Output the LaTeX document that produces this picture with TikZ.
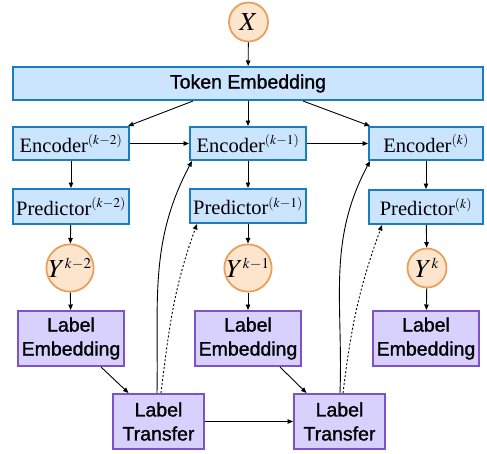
\documentclass[tikz,border=0pt]{standalone}
\usepackage{mathptmx}
\usepackage{fontspec}
\setmainfont{Liberation Serif}
\setsansfont{Liberation Sans}
\newfontfamily\labfont{Liberation Sans}[FakeBold=1.2]
\DeclareMathSizes{20.5}{20.5}{13.5}{10}
\DeclareMathSizes{26}{26}{15}{10}
\usetikzlibrary{arrows.meta}
\definecolor{bluefill}{HTML}{CCE5FF}
\definecolor{bluebd}{HTML}{1B7DC1}
\definecolor{orfill}{HTML}{FDE5CD}
\definecolor{orbd}{HTML}{E8A05A}
\definecolor{pufill}{HTML}{D8D0FD}
\definecolor{pubd}{HTML}{7E52C8}
\tikzset{
  bluebox/.style={draw=bluebd, fill=bluefill, line width=2pt, inner sep=0pt, minimum height=33pt,
    font=\fontsize{20.5}{24}\selectfont},
  tokbox/.style={bluebox, font=\labfont\fontsize{19.5}{24}\selectfont},
  circ/.style={circle, draw=orbd, fill=orfill, line width=1.8pt, inner sep=0pt, minimum size=39pt,
    font=\fontsize{26}{28}\selectfont},
  purbox/.style={draw=pubd, fill=pufill, line width=2pt, inner sep=0pt, minimum height=55pt,
    align=center, font=\labfont\fontsize{19.5}{24}\selectfont},
  arr/.style={-{Triangle[length=5.5pt,width=4.5pt]}, line width=0.9pt, black},
  dotarr/.style={arr, dash pattern=on 2pt off 2pt}
}
\begin{document}
\begin{tikzpicture}[x=1pt, y=-1pt]
\useasboundingbox (0,0) rectangle (487,453);
\node[circ] (X) at (248.5,22) {$X$};
\node[tokbox, minimum width=470pt] (Tok) at (248,83.5) {Token Embedding};

\node[bluebox, minimum width=116pt] (E1) at (71,143.5) {Encoder$^{(k-2)}$};
\node[bluebox, minimum width=116pt] (E2) at (248,143.5) {Encoder$^{(k-1)}$};
\node[bluebox, minimum width=114pt] (E3) at (426,143.5) {Encoder$^{(k)}$};

\node[bluebox, minimum width=116pt, minimum height=35pt] (P1) at (71,206.5) {Predictor$^{(k-2)}$};
\node[bluebox, minimum width=116pt, minimum height=34pt] (P2) at (248,206) {Predictor$^{(k-1)}$};
\node[bluebox, minimum width=114pt, minimum height=34pt] (P3) at (426,207) {Predictor$^{(k)}$};

\node[circ] (Y1) at (70,268) {$Y^{k-2}$};
\node[circ] (Y2) at (248,268) {$Y^{k-1}$};
\node[circ] (Y3) at (427,268) {$Y^{k}$};

\node[purbox, minimum width=106pt] (L1) at (71,338.5) {Label\\Embedding};
\node[purbox, minimum width=106pt] (L2) at (248,338.5) {Label\\Embedding};
\node[purbox, minimum width=106pt] (L3) at (426,338.5) {Label\\Embedding};

\node[purbox, minimum width=91pt] (T1) at (158.5,421.5) {Label\\Transfer};
\node[purbox, minimum width=91pt] (T2) at (339.5,421.5) {Label\\Transfer};

\draw[arr] (X) -- (Tok);
\draw[arr] ([xshift=-55pt]Tok.south) -- ([xshift=57pt]E1.north);
\draw[arr] (Tok.south) -- (E2.north);
\draw[arr] ([xshift=55pt]Tok.south) -- ([xshift=-56pt]E3.north);
\draw[arr] (E1) -- (E2);
\draw[arr] (E2) -- (E3);
\draw[arr] (E1) -- (P1);
\draw[arr] (E2) -- (P2);
\draw[arr] (E3) -- (P3);
\draw[arr] (P1) -- (Y1);
\draw[arr] (P2) -- (Y2);
\draw[arr] (P3) -- (Y3);
\draw[arr] (Y1) -- (L1);
\draw[arr] (Y2) -- (L2);
\draw[arr] (Y3) -- (L3);
\draw[arr] ([xshift=30pt]L1.south) -- ([xshift=-30pt]T1.north);
\draw[arr] ([xshift=32pt]L2.south) -- ([xshift=-33pt]T2.north);
\draw[arr] (T1) -- (T2);
\draw[arr] ([xshift=-1.5pt]T1.north) to[out=89,in=-118] ([xshift=3pt]E2.south west);
\draw[dotarr] ([xshift=2.5pt]T1.north) to[out=83,in=-110] ([xshift=8pt]P2.south west);
\draw[arr] ([xshift=0.5pt]T2.north) to[out=88,in=-118] ([xshift=2pt]E3.south west);
\draw[dotarr] ([xshift=3.5pt]T2.north) to[out=83,in=-110] ([xshift=14pt]P3.south west);
\end{tikzpicture}
\end{document}
